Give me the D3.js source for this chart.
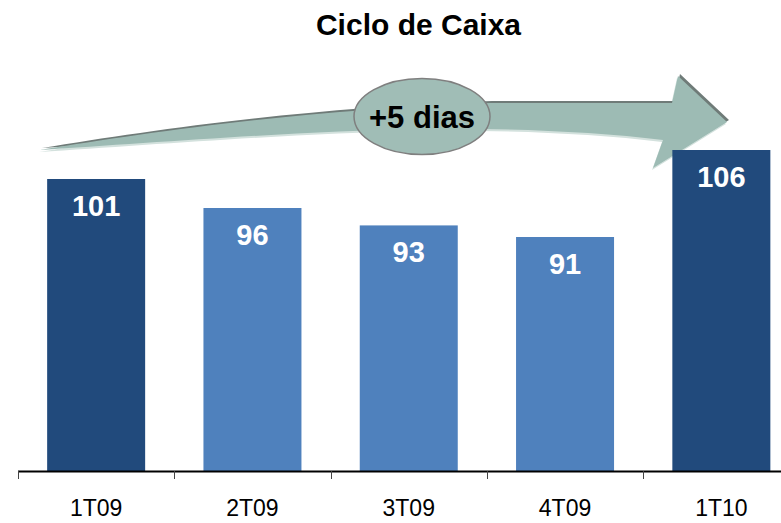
<!DOCTYPE html>
<html>
<head>
<meta charset="utf-8">
<script src="https://cdn.jsdelivr.net/npm/d3@7"></script>
<style>
  body { margin: 0; background: #fff; }
  svg { display: block; font-family: "Liberation Sans", Arial, sans-serif; }
</style>
</head>
<body>
<svg id="chart" width="781" height="523"></svg>
<script>
// data
var categories = ["1T09", "2T09", "3T09", "4T09", "1T10"];
var values = [101, 96, 93, 91, 106];
var highlight = [true, false, false, false, true];
var chartTitle = "Ciclo de Caixa";
var changeLabel = "+5 dias";

var svg = d3.select("#chart");

var baseY = 471, topY = 150;
var x = d3.scaleBand()
    .domain(categories)
    .range([18, 18 + 5 * 156.3])
    .paddingInner(0.373)
    .paddingOuter(0.1865);

var y = d3.scaleLinear()
    .domain([50.66, d3.max(values)])
    .range([baseY, topY]);

// title
svg.append("text")
    .attr("x", 418.5)
    .attr("y", 35)
    .attr("text-anchor", "middle")
    .attr("font-size", 30)
    .attr("font-weight", "bold")
    .attr("fill", "#000")
    .text(chartTitle);

// curved arrow (decoration)
var arrowD = "M40,150 C150,132 300,110 490,103 L672,103 L678,76 L727,122 L653,168 L663,140 " +
    "C590,131 500,128 420,129 C300,131 150,143 40,150 Z";
var arrow = svg.append("g");
arrow.append("path").attr("d", arrowD).attr("fill", "#d3e1dd").attr("transform", "translate(-1,2)");
arrow.append("path").attr("d", arrowD).attr("fill", "#6f7b78").attr("transform", "translate(2,-2)");
arrow.append("path").attr("d", arrowD).attr("fill", "#9dbbb4");

// bars
var bars = svg.append("g");
bars.selectAll("rect")
    .data(values)
    .enter()
    .append("rect")
    .attr("x", function (d, i) { return x(categories[i]); })
    .attr("y", function (d) { return y(d); })
    .attr("width", x.bandwidth())
    .attr("height", function (d) { return baseY - y(d); })
    .attr("fill", function (d, i) { return highlight[i] ? "#214a7c" : "#4f81bd"; });

bars.selectAll("text")
    .data(values)
    .enter()
    .append("text")
    .attr("x", function (d, i) { return x(categories[i]) + x.bandwidth() / 2; })
    .attr("y", function (d) { return y(d) + 37; })
    .attr("text-anchor", "middle")
    .attr("font-size", 29)
    .attr("font-weight", "bold")
    .attr("fill", "#fff")
    .text(function (d) { return d; });

// ellipse label
svg.append("ellipse")
    .attr("cx", 422)
    .attr("cy", 116.5)
    .attr("rx", 68)
    .attr("ry", 38)
    .attr("fill", "#a0bdb6")
    .attr("stroke", "#7f7f7f")
    .attr("stroke-width", 1.5);
svg.append("text")
    .attr("x", 422)
    .attr("y", 128)
    .attr("text-anchor", "middle")
    .attr("font-size", 31)
    .attr("font-weight", "bold")
    .attr("fill", "#000")
    .text(changeLabel);

// x axis
var axis = svg.append("g");
axis.append("line")
    .attr("x1", x.range()[0]).attr("x2", x.range()[1])
    .attr("y1", baseY + 0.5).attr("y2", baseY + 0.5)
    .attr("stroke", "#000")
    .attr("stroke-width", 2);

var gap = (x.step() - x.bandwidth()) / 2;
axis.selectAll(".tick")
    .data(categories)
    .enter()
    .append("line")
    .attr("class", "tick")
    .attr("x1", function (d) { return Math.round(x(d) - gap) + 0.5; })
    .attr("x2", function (d) { return Math.round(x(d) - gap) + 0.5; })
    .attr("y1", baseY)
    .attr("y2", baseY + 8)
    .attr("stroke", "#444")
    .attr("stroke-width", 1);

axis.selectAll(".label")
    .data(categories)
    .enter()
    .append("text")
    .attr("class", "label")
    .attr("x", function (d) { return x(d) + x.bandwidth() / 2; })
    .attr("y", 516)
    .attr("text-anchor", "middle")
    .attr("font-size", 23)
    .attr("fill", "#000")
    .text(function (d) { return d; });
</script>
</body>
</html>
